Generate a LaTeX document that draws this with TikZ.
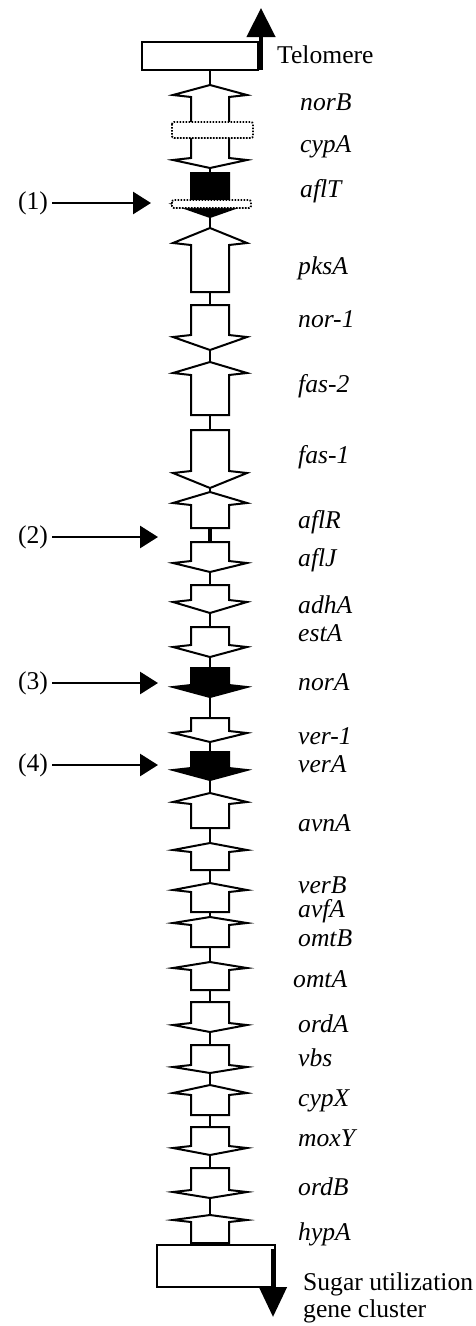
\documentclass[tikz,border=0pt]{standalone}
\usepackage{fontspec}
\setmainfont{Liberation Serif}
\usetikzlibrary{arrows.meta}

\newcommand{\genesize}{\fontsize{25.6}{28}\selectfont}
% gene pointing up: tip, wing, bottom, style
\newcommand{\geneup}[4]{%
  \draw[#4] (210,#1) -- (247,#2) -- (229,#2+2) -- (229,#3) -- (191,#3)
    -- (191,#2+2) -- (173,#2) -- cycle;}
% gene pointing down: top, wing, tip, style
\newcommand{\genedown}[4]{%
  \draw[#4] (191,#1) -- (229,#1) -- (229,#2-2) -- (247,#2) -- (210,#3)
    -- (173,#2) -- (191,#2-2) -- cycle;}

\tikzset{
  gene/.style={draw=black,fill=white,line width=2pt,line join=miter},
  genefill/.style={draw=black,fill=black,line width=2pt,line join=miter},
  spacer/.style={draw=black,line width=2pt},
  dotbox/.style={draw=black,fill=white,line width=1.8pt,dash pattern=on 1.6pt off 1.4pt,rounded corners=2pt},
  endbox/.style={draw=black,fill=white,line width=2pt,inner sep=0pt},
  genename/.style={anchor=base west,inner sep=0pt,font=\genesize\itshape},
  plainname/.style={anchor=base west,inner sep=0pt,font=\genesize},
  marknum/.style={inner sep=4pt,font=\genesize},
  marker/.style={line width=2.8pt,-{Triangle[length=18pt,width=22pt]}}
}

\begin{document}
\begin{tikzpicture}[x=1pt,y=-1pt]
	\useasboundingbox (0,0) rectangle (475,1326);
	%\draw[red] (0,0) rectangle (475,1326);
	\coordinate (axtop) at (210,70);
	\coordinate (axbot) at (210,1245);
	\draw[spacer] (axtop) -- (axbot);
	% ends of the cluster
	\node[endbox,minimum width=116pt,minimum height=28pt] (telbox) at (200,56) {};
	\draw[line width=4.5pt,-{Triangle[length=29pt,width=28pt]}] (261,70) -- (261,8);
	\node[plainname] (telo) at (277,63) {Telomere};
	\node[endbox,minimum width=118pt,minimum height=42pt] (sugbox) at (216,1266) {};
	\draw[line width=4.5pt,-{Triangle[length=30pt,width=27pt]}] (273,1249) -- (273,1317);
	\node[plainname] (sugar) at (303,1290) {Sugar utilization};
	\node[plainname] (cluster) at (303,1317) {gene cluster};
	% genes
	\geneup{85}{95}{130}{gene}
	\genedown{130}{160}{168}{gene}
	\draw[dotbox] (172,122) rectangle (253,138);
	\genedown{173}{204}{217}{genefill}
	\draw[dotbox] (172,200) rectangle (251,208);
	\geneup{228}{243}{292}{gene}
	\genedown{305}{337}{350}{gene}
	\geneup{362}{373}{415}{gene}
	\genedown{430}{473}{488}{gene}
	\geneup{492}{503}{528}{gene}
	\draw[line width=4pt] (210,528) -- (210,542);
	\genedown{542}{563}{572}{gene}
	\genedown{585}{602}{613}{gene}
	\genedown{627}{647}{657}{gene}
	\genedown{668}{687}{697}{genefill}
	\genedown{718}{733}{742}{gene}
	\genedown{752}{770}{780}{genefill}
	\geneup{793}{802}{828}{gene}
	\geneup{843}{850}{870}{gene}
	\geneup{883}{890}{912}{gene}
	\geneup{917}{923}{947}{gene}
	\geneup{962}{968}{990}{gene}
	\genedown{1002}{1025}{1032}{gene}
	\genedown{1045}{1067}{1073}{gene}
	\geneup{1085}{1093}{1115}{gene}
	\genedown{1127}{1148}{1155}{gene}
	\genedown{1168}{1192}{1198}{gene}
	\geneup{1215}{1220}{1243}{gene}
	% gene names
	\node[genename] (norB) at (300,110) {norB};
	\node[genename] (cypA) at (300,152) {cypA};
	\node[genename] (aflT) at (300,197) {aflT};
	\node[genename] (pksA) at (298,274) {pksA};
	\node[genename] (nor1) at (298,327) {nor-1};
	\node[genename] (fas2) at (298,392) {fas-2};
	\node[genename] (fas1) at (298,463) {fas-1};
	\node[genename] (aflR) at (298,528) {aflR};
	\node[genename] (aflJ) at (298,566) {aflJ};
	\node[genename] (adhA) at (298,613) {adhA};
	\node[genename] (estA) at (298,641) {estA};
	\node[genename] (norA) at (298,690) {norA};
	\node[genename] (ver1) at (298,744) {ver-1};
	\node[genename] (verA) at (298,772) {verA};
	\node[genename] (avnA) at (298,831) {avnA};
	\node[genename] (verB) at (298,893) {verB};
	\node[genename] (avfA) at (298,917) {avfA};
	\node[genename] (omtB) at (298,946) {omtB};
	\node[genename] (omtA) at (293,987) {omtA};
	\node[genename] (ordA) at (298,1032) {ordA};
	\node[genename] (vbs) at (298,1066) {vbs};
	\node[genename] (cypX) at (298,1106) {cypX};
	\node[genename] (moxY) at (298,1146) {moxY};
	\node[genename] (ordB) at (298,1195) {ordB};
	\node[genename] (hypA) at (298,1240) {hypA};
	% numbered pointers
	\node[marknum] (m1) at (33,203) {(1)};
	\node[marknum] (m2) at (33,537) {(2)};
	\node[marknum] (m3) at (33,683) {(3)};
	\node[marknum] (m4) at (33,765) {(4)};
	\coordinate (t1) at (151,203);
	\coordinate (t2) at (158,537);
	\coordinate (t3) at (158,683);
	\coordinate (t4) at (158,765);
	\draw[marker] (m1) -- (t1);
	\draw[marker] (m2) -- (t2);
	\draw[marker] (m3) -- (t3);
	\draw[marker] (m4) -- (t4);
\end{tikzpicture}
\end{document}
